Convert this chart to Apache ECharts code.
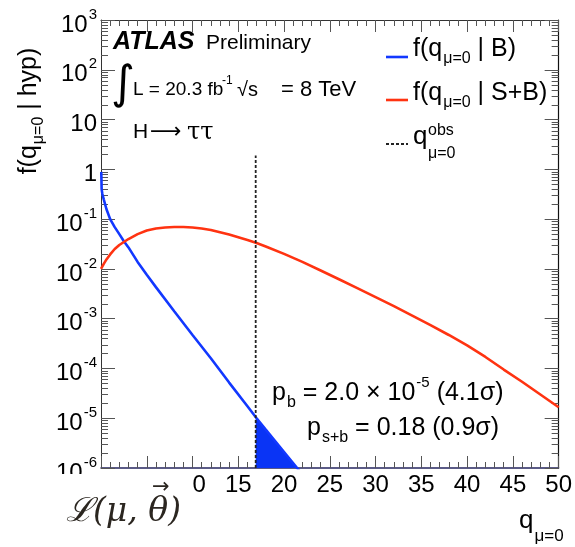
<!DOCTYPE html>
<html>
<head>
<meta charset="utf-8">
<script src="https://cdn.jsdelivr.net/npm/echarts@6/dist/echarts.min.js"></script>
<style>
  html, body { margin: 0; padding: 0; background: #fff; }
  #chart { width: 575px; height: 547px; }
</style>
</head>
<body>
<div id="chart"></div>
<script>
// Test statistic q_{mu=0} and its densities under B-only and S+B hypotheses
const qB  = [0.03, 0.07, 0.15, 0.3, 0.6, 1.0, 1.5, 2, 2.5, 3, 4, 5, 6, 8, 10, 12, 14, 16, 17, 18, 20, 22];
const fB  = [0.89, 0.40, 0.32, 0.25, 0.158, 0.100, 0.069, 0.050, 0.036, 0.027, 0.0138, 0.0076, 0.0043,
             0.00141, 4.7e-4, 1.6e-4, 5.2e-5, 1.74e-5, 1.0e-5, 5.9e-6, 2.1e-6, 7.4e-7];

const qSB = [0, 0.15, 0.3, 0.6, 1, 1.5, 2, 3, 4, 5, 6, 7, 8, 9, 10, 11, 12, 14, 16, 17, 18, 20,
             22, 24, 26, 28, 30, 32, 34, 36, 38, 40, 42, 44, 46, 48, 50];
const fSB = [0.0100, 0.0112, 0.0126, 0.0155, 0.0195, 0.0251, 0.0302, 0.0398, 0.0500, 0.0589, 0.0646,
             0.0676, 0.0692, 0.0692, 0.0676, 0.0646, 0.0603, 0.0490, 0.0380, 0.0331, 0.0282,
             0.0200, 0.0138, 0.0093, 0.0062, 0.0041, 0.0027, 0.00178, 0.00115, 7.4e-4, 4.7e-4,
             2.9e-4, 1.7e-4, 9.5e-5, 5.4e-5, 3.0e-5, 1.66e-5];

// Observed value and the B-only tail beyond it (p_b region)
const qObs = 16.9;
const qObsTop = 1.9;
const tailQ = [16.9, 18, 20, 22];
const tailF = [1.05e-5, 5.9e-6, 2.1e-6, 7.4e-7];

// Axis ranges
const xRange = [0, 50];
const xStep = 5;
const yRange = [1e-6, 1e3];
// Minor ticks of the log axis: 2..9 within each decade
const minorY = [];
for (let d = -6; d <= 2; d++) for (let m = 2; m <= 9; m++) minorY.push(m * Math.pow(10, d));

const FONT = '"Liberation Sans", Arial, Helvetica, sans-serif';
const BLUE = '#1238ff';
const RED = '#ff3311';

const zip = (a, b) => a.map((v, i) => [v, b[i]]);

// rich styles for sub/superscripts
function richSet(fs, subPad) {
  return {
    m:  { fontSize: fs, lineHeight: fs + 1, padding: [6, 0, 0, 0], verticalAlign: 'top', fontFamily: FONT, color: '#000' },
    sb: { fontSize: Math.round(fs * 0.64), lineHeight: Math.round(fs * 0.64), padding: [subPad + 6, 0, 0, 1], verticalAlign: 'top', fontFamily: FONT, color: '#000' },
    sp: { fontSize: Math.round(fs * 0.6), lineHeight: Math.round(fs * 0.6), padding: [0, 0, 0, 1], verticalAlign: 'top', fontFamily: FONT, color: '#000' }
  };
}

const chart = echarts.init(document.getElementById('chart'), null, { renderer: 'canvas' });

const tickStyle = { color: '#555', width: 1 };

const option = {
  animation: false,
  backgroundColor: '#fff',
  grid: { left: 101, right: 13, top: 20, bottom: 79, containLabel: false },
  xAxis: [
    {
      type: 'value', min: xRange[0], max: xRange[1], interval: xStep, position: 'bottom',
      axisLine: { show: true, onZero: false, lineStyle: { color: '#262660', width: 1.5 } },
      axisTick: { show: true, inside: true, length: 12, lineStyle: tickStyle },
      minorTick: { show: true, splitNumber: 5, length: 6, lineStyle: tickStyle },
      axisLabel: { show: true, margin: 5, fontSize: 24, color: '#000', fontFamily: FONT },
      splitLine: { show: false }
    },
    {
      type: 'value', min: xRange[0], max: xRange[1], interval: xStep, position: 'top',
      axisLine: { show: true, onZero: false, lineStyle: { color: '#333', width: 1 } },
      axisTick: { show: true, inside: true, length: 12, lineStyle: tickStyle },
      minorTick: { show: true, splitNumber: 5, length: 6, lineStyle: tickStyle },
      axisLabel: { show: false },
      splitLine: { show: false }
    }
  ],
  yAxis: [
    {
      type: 'log', logBase: 10, min: yRange[0], max: yRange[1], splitNumber: 9, position: 'left',
      axisLine: { show: true, onZero: false, lineStyle: { color: '#333', width: 1 } },
      axisTick: { show: true, inside: true, length: 14, lineStyle: tickStyle },
      axisLabel: {
        show: true, margin: 4, fontFamily: FONT, color: '#000',
        formatter: function (v) {
          const e = Math.round(Math.log10(v));
          if (e === 0) return '{b|1}';
          if (e === 1) return '{b|10}';
          return '{b|10}{s|' + e + '}';
        },
        rich: {
          b: { fontSize: 24, lineHeight: 26, padding: [6, 0, 0, 0], verticalAlign: 'top', fontFamily: FONT, color: '#000' },
          s: { fontSize: 15, lineHeight: 15, verticalAlign: 'top', padding: [0, 0, 0, 1], fontFamily: FONT, color: '#000' }
        }
      },
      splitLine: { show: false }
    },
    {
      type: 'log', logBase: 10, min: yRange[0], max: yRange[1], splitNumber: 9, position: 'right',
      axisLine: { show: true, onZero: false, lineStyle: { color: '#111', width: 1.2 } },
      axisTick: { show: true, inside: true, length: 14, lineStyle: tickStyle },
      axisLabel: { show: false },
      splitLine: { show: false }
    }
  ],
  series: [
    {
      // minor ticks of the log axis on both sides of the frame
      type: 'custom', xAxisIndex: 0, yAxisIndex: 0, silent: true, z: 1,
      data: minorY.map(v => [xRange[0], v]),
      encode: { x: 0, y: 1 },
      renderItem: function (params, api) {
        const v = api.value(1);
        const l = api.coord([xRange[0], v]);
        const r = api.coord([xRange[1], v]);
        const y = Math.round(l[1]) + 0.5;
        return {
          type: 'group',
          children: [
            { type: 'line', shape: { x1: l[0], y1: y, x2: l[0] + 7, y2: y }, style: { stroke: '#555', lineWidth: 1 } },
            { type: 'line', shape: { x1: r[0] - 7, y1: y, x2: r[0], y2: y }, style: { stroke: '#555', lineWidth: 1 } }
          ]
        };
      }
    },
    {
      // shaded B-only tail beyond the observed value, filled down to the axis floor
      type: 'custom', xAxisIndex: 0, yAxisIndex: 0, silent: true, z: 2,
      data: zip(tailQ, tailF),
      encode: { x: 0, y: 1 },
      renderItem: function (params, api) {
        if (params.dataIndex !== 0) return null;
        const pts = tailQ.map((q, i) => api.coord([q, tailF[i]]));
        const floorY = api.coord([tailQ[0], yRange[0]])[1];
        pts.push([pts[pts.length - 1][0], floorY]);
        pts.push([pts[0][0], floorY]);
        const cs = params.coordSys;
        return {
          type: 'polygon', shape: { points: pts },
          style: { fill: '#0a34f5' },
          clipPath: { type: 'rect', shape: { x: cs.x, y: cs.y, width: cs.width, height: cs.height } }
        };
      }
    },
    {
      name: 'fB', type: 'line', data: zip(qB, fB), symbol: 'none', clip: true, z: 3,
      lineStyle: { color: BLUE, width: 2.6 }
    },
    {
      name: 'fSB', type: 'line', data: zip(qSB, fSB), symbol: 'none', clip: true, z: 3,
      lineStyle: { color: RED, width: 2.6 }
    },
    {
      name: 'qobs', type: 'line', data: [[qObs, yRange[0]], [qObs, qObsTop]], symbol: 'none', clip: true, z: 4,
      lineStyle: { color: '#222', width: 1.8, type: [3, 2] }
    }
  ],
  graphic: [
    // y-axis title
    {
      type: 'text', x: 11, y: 111, rotation: Math.PI / 2, z: 50,
      style: { text: '{m|f(q}{sb|\u03bc=0}{m| | hyp)}', rich: richSet(25, 14), align: 'center', verticalAlign: 'top' }
    },
    // x-axis title
    {
      type: 'text', x: 519, y: 502, z: 50,
      style: { text: '{m|q}{sb|\u03bc=0}', rich: richSet(26, 20), align: 'left', verticalAlign: 'top' }
    },
    // ATLAS label
    { type: 'text', x: 113, y: 42, z: 50,
      style: { text: 'ATLAS', font: 'italic bold 25px ' + FONT, fill: '#000', align: 'left', verticalAlign: 'middle' } },
    { type: 'text', x: 206, y: 43, z: 50,
      style: { text: 'Preliminary', font: '21px ' + FONT, fill: '#000', align: 'left', verticalAlign: 'middle' } },
    { type: 'text', x: 111, y: 86, z: 50,
      style: { text: '\u222b', font: '46px "DejaVu Sans", ' + FONT, fill: '#000', align: 'left', verticalAlign: 'middle' } },
    { type: 'text', x: 133, y: 90, z: 50,
      style: { text: 'L = 20.3 fb', font: '19px ' + FONT, fill: '#000', align: 'left', verticalAlign: 'middle' } },
    { type: 'text', x: 222, y: 81, z: 50,
      style: { text: '-1', font: '12px ' + FONT, fill: '#000', align: 'left', verticalAlign: 'middle' } },
    { type: 'text', x: 237, y: 90, z: 50,
      style: { text: '\u221as', font: '20px ' + FONT, fill: '#000', align: 'left', verticalAlign: 'middle' } },
    { type: 'text', x: 281, y: 90, z: 50,
      style: { text: '= 8 TeV', font: '22px ' + FONT, fill: '#000', align: 'left', verticalAlign: 'middle' } },
    { type: 'text', x: 133, y: 132, z: 50,
      style: { text: 'H', font: '21px ' + FONT, fill: '#000', align: 'left', verticalAlign: 'middle' } },
    { type: 'text', x: 150, y: 132, z: 50,
      style: { text: '\u27f6', font: '22px "DejaVu Sans", ' + FONT, fill: '#000', align: 'left', verticalAlign: 'middle' } },
    { type: 'text', x: 187, y: 133, z: 50,
      style: { text: '\u03c4\u03c4', font: '24px "DejaVu Serif", serif', fill: '#000', align: 'left', verticalAlign: 'middle' } },
    // legend
    { type: 'line', z: 50, shape: { x1: 386, y1: 57, x2: 408, y2: 57 }, style: { stroke: BLUE, lineWidth: 2.6 } },
    { type: 'text', x: 413, y: 31, z: 50,
      style: { text: '{m|f(q}{sb|\u03bc=0}{m| | B)}', rich: richSet(25, 14), align: 'left', verticalAlign: 'top' } },
    { type: 'line', z: 50, shape: { x1: 386, y1: 100, x2: 408, y2: 100 }, style: { stroke: RED, lineWidth: 2.6 } },
    { type: 'text', x: 413, y: 75, z: 50,
      style: { text: '{m|f(q}{sb|\u03bc=0}{m| | S+B)}', rich: richSet(25, 14), align: 'left', verticalAlign: 'top' } },
    { type: 'line', z: 50, shape: { x1: 386, y1: 144, x2: 408, y2: 144 }, style: { stroke: '#222', lineWidth: 1.8, lineDash: [3, 2] } },
    { type: 'text', x: 413, y: 137, z: 50,
      style: { text: 'q', font: '26px ' + FONT, fill: '#000', align: 'left', verticalAlign: 'middle' } },
    { type: 'text', x: 428, y: 131, z: 50,
      style: { text: 'obs', font: '16px ' + FONT, fill: '#000', align: 'left', verticalAlign: 'middle' } },
    { type: 'text', x: 428, y: 154, z: 50,
      style: { text: '\u03bc=0', font: '16px ' + FONT, fill: '#000', align: 'left', verticalAlign: 'middle' } },
    // p-values
    { type: 'text', x: 272, y: 375, z: 50,
      style: { text: '{m|p}{sb|b}{m| = 2.0 \u00d7 10}{sp|-5}{m| (4.1\u03c3)}', rich: richSet(25, 14), align: 'left', verticalAlign: 'top' } },
    { type: 'text', x: 307, y: 410, z: 50,
      style: { text: '{m|p}{sb|s+b}{m| = 0.18 (0.9\u03c3)}', rich: richSet(25, 14), align: 'left', verticalAlign: 'top' } },
    // likelihood symbol on a white patch over the lower-left corner
    { type: 'rect', z: 90, shape: { x: 50, y: 474, width: 142, height: 73 }, style: { fill: '#fff' } },
    { type: 'text', x: 66, y: 512, z: 91,
      style: { text: '\u2112(\u03bc, \u03b8)', font: 'italic 33px "DejaVu Serif", serif', fill: '#2b2620', align: 'left', verticalAlign: 'middle' } },
    { type: 'text', x: 152, y: 488, z: 91,
      style: { text: '\u2192', font: '21px "DejaVu Sans", sans-serif', fill: '#2b2620', align: 'left', verticalAlign: 'middle' } }
  ]
};

chart.setOption(option);
</script>
</body>
</html>
